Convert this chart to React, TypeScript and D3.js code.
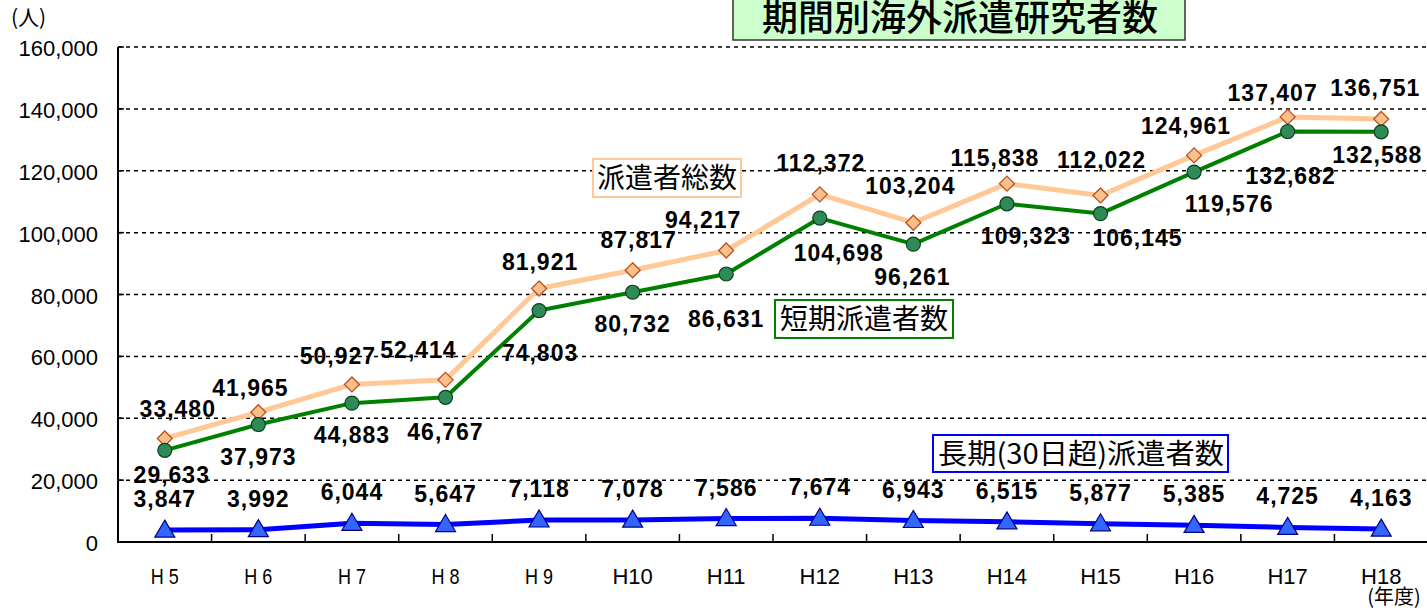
import React from "react";
import * as d3 from "d3";

const years = ["H5", "H6", "H7", "H8", "H9", "H10", "H11", "H12", "H13", "H14", "H15", "H16", "H17", "H18"];
const yearLabels = ["H 5", "H 6", "H 7", "H 8", "H 9", "H10", "H11", "H12", "H13", "H14", "H15", "H16", "H17", "H18"];
const totalValues = [33480, 41965, 50927, 52414, 81921, 87817, 94217, 112372, 103204, 115838, 112022, 124961, 137407, 136751];
const shortValues = [29633, 37973, 44883, 46767, 74803, 80732, 86631, 104698, 96261, 109323, 106145, 119576, 132682, 132588];
const longValues = [3847, 3992, 6044, 5647, 7118, 7078, 7586, 7674, 6943, 6515, 5877, 5385, 4725, 4163];
const yTicks = [0, 20000, 40000, 60000, 80000, 100000, 120000, 140000, 160000];

// label nudges relative to each point (layout only)
const totalOffsets = [[13, -29], [-8, -24], [-14, -28], [-27, -30], [1, -27], [6, -30], [-23, -31], [1, -31], [-3, -37], [-12, -26], [1, -35], [-8, -29], [-15, -24], [-6, -31]];
const shortOffsets = [[7, 25], [0, 32], [0, 32], [0, 35], [1, 42], [0, 32], [0, 45], [19, 35], [-1, 33], [19, 32], [37, 24], [35, 32], [3, 44], [-4, 23]];

const W = 1427;
const H = 610;
const margin = { left: 118, top: 47, right: -1, bottom: 68 };
const FONT = "'Liberation Sans', Arial, sans-serif";
const JP = "'Noto Sans CJK JP', sans-serif";

export default function App() {
  const x = d3
    .scaleBand()
    .domain(years)
    .range([margin.left, W - margin.right]);
  const y = d3
    .scaleLinear()
    .domain([0, 160000])
    .range([H - margin.bottom, margin.top]);
  const cx = (d: string) => (x(d) as number) + x.bandwidth() / 2;
  const fmt = d3.format(",");

  const line = (vals: number[]) =>
    d3
      .line<number>()
      .x((_, i) => cx(years[i]))
      .y((v) => y(v))(vals) as string;

  const y0 = y(0);
  const labelStyle = { letterSpacing: "1px" };

  return (
    <svg width={W} height={H} style={{ position: "absolute", left: 0, top: 0, background: "#fff" }}>
      {/* grid */}
      {yTicks.slice(1).map((t) => (
        <line key={t} x1={margin.left} x2={W} y1={y(t)} y2={y(t)} stroke="#000" strokeWidth={1.5} strokeDasharray="4,4" />
      ))}
      {/* y ticks + labels */}
      {yTicks.map((t) => (
        <g key={"yt" + t}>
          <line x1={margin.left} x2={margin.left + 6} y1={y(t)} y2={y(t)} stroke="#000" strokeWidth={1.5} />
          <text x={98} y={y(t) + 9} textAnchor="end" fontFamily={FONT} fontSize={22}>
            {fmt(t)}
          </text>
        </g>
      ))}
      <text x={11} y={25} fontFamily={JP} fontSize={21}>(人)</text>

      {/* axes */}
      <line x1={margin.left} x2={margin.left} y1={margin.top} y2={y0 + 1} stroke="#000" strokeWidth={2} />
      <line x1={margin.left} x2={W} y1={y0} y2={y0} stroke="#000" strokeWidth={2} />
      {years.slice(1).map((d) => (
        <line key={"xt" + d} x1={x(d) as number} x2={x(d) as number} y1={y0} y2={y0 - 8} stroke="#000" strokeWidth={1.5} />
      ))}
      {years.map((d, i) =>
        i < 5 ? (
          <text key={"xl" + d} x={cx(d) - 14} y={584} fontFamily={FONT} fontSize={22}
            textLength={28} lengthAdjust="spacingAndGlyphs">
            {yearLabels[i]}
          </text>
        ) : (
          <text key={"xl" + d} x={cx(d)} y={584} textAnchor="middle" fontFamily={FONT} fontSize={22}>
            {yearLabels[i]}
          </text>
        )
      )}
      <text x={1394} y={604} textAnchor="middle" fontFamily={JP} fontSize={20}>(年度)</text>

      {/* title */}
      <rect x={733} y={-4} width={452} height={44} fill="#ccffcc" stroke="#333" strokeWidth={1.5} />
      <text x={960} y={31} textAnchor="middle" fontFamily={JP} fontSize={36} fontWeight={500}>期間別海外派遣研究者数</text>

      {/* legend boxes */}
      <rect x={593} y={159} width={148} height={38} fill="#fff" stroke="#ffc896" strokeWidth={2} />
      <text x={667} y={188} textAnchor="middle" fontFamily={JP} fontSize={28}>派遣者総数</text>
      <rect x={775} y={300} width={178} height={38} fill="#fff" stroke="#008000" strokeWidth={2} />
      <text x={864} y={329} textAnchor="middle" fontFamily={JP} fontSize={28}>短期派遣者数</text>
      <rect x={933} y={435} width={295} height={37} fill="#fff" stroke="#0000ff" strokeWidth={2} />
      <text x={1081} y={464} textAnchor="middle" fontFamily={JP} fontSize={28}
        textLength={286} lengthAdjust="spacingAndGlyphs">長期(30日超)派遣者数</text>

      {/* lines */}
      <path d={line(totalValues)} fill="none" stroke="#ffc896" strokeWidth={5} strokeLinejoin="round" />
      <path d={line(shortValues)} fill="none" stroke="#008000" strokeWidth={4} strokeLinejoin="round" />
      <path d={line(longValues)} fill="none" stroke="#0000ff" strokeWidth={5} strokeLinejoin="round" />

      {/* markers */}
      {totalValues.map((v, i) => {
        const px = cx(years[i]);
        const py = y(v);
        return (
          <path key={"tm" + i} d={`M${px},${py - 7.5}L${px + 7.5},${py}L${px},${py + 7.5}L${px - 7.5},${py}Z`}
            fill="#fbbf8c" stroke="#b8501e" strokeWidth={1.3} />
        );
      })}
      {shortValues.map((v, i) => (
        <circle key={"sm" + i} cx={cx(years[i])} cy={y(v)} r={7} fill="#2e8b57" stroke="#0b3d1a" strokeWidth={1.2} />
      ))}
      {longValues.map((v, i) => {
        const px = cx(years[i]);
        const py = y(v);
        return (
          <path key={"lm" + i} d={`M${px},${py - 10}L${px + 10},${py + 7}L${px - 10},${py + 7}Z`}
            fill="#3366ff" stroke="#000080" strokeWidth={1.2} />
        );
      })}

      {/* data labels */}
      {totalValues.map((v, i) => (
        <text key={"tl" + i} x={cx(years[i]) + totalOffsets[i][0]} y={y(v) + totalOffsets[i][1] + 8}
          textAnchor="middle" fontFamily={FONT} fontSize={23} fontWeight="bold" style={labelStyle}>
          {fmt(v)}
        </text>
      ))}
      {shortValues.map((v, i) => (
        <text key={"sl" + i} x={cx(years[i]) + shortOffsets[i][0]} y={y(v) + shortOffsets[i][1] + 8}
          textAnchor="middle" fontFamily={FONT} fontSize={23} fontWeight="bold" style={labelStyle}>
          {fmt(v)}
        </text>
      ))}
      {longValues.map((v, i) => (
        <text key={"ll" + i} x={cx(years[i])} y={y(v) - 31 + 8}
          textAnchor="middle" fontFamily={FONT} fontSize={23} fontWeight="bold" style={labelStyle}>
          {fmt(v)}
        </text>
      ))}
    </svg>
  );
}
